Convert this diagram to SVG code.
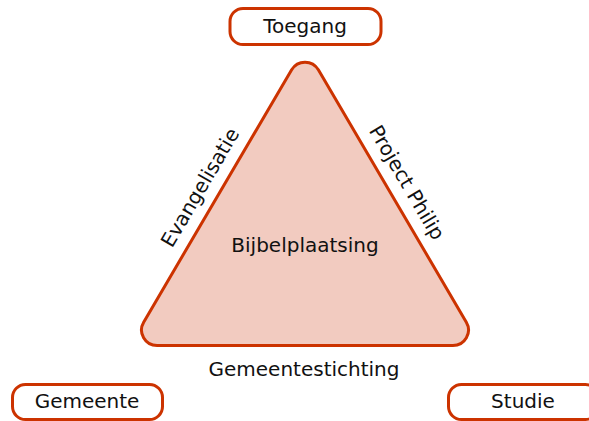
<svg xmlns="http://www.w3.org/2000/svg" width="589" height="421" viewBox="0 0 589 421">
  <style>
    .node { fill: #ffffff; stroke: #cc3300; stroke-width: 3; }
    .tri { fill: #f2cbc0; stroke: #cc3300; stroke-width: 3; stroke-linejoin: round; }
    .lbl { font-family: "DejaVu Sans", "Liberation Sans", sans-serif; font-size: 20px; fill: #111111; text-anchor: middle; }
  </style>
  <rect width="589" height="421" fill="#ffffff"/>
  <g id="triangle">
    <path class="tri" d="M 291.65 69.78 A 15.5 15.5 0 0 1 318.35 69.78 L 466.32 322.16 A 15.5 15.5 0 0 1 452.95 345.5 L 157.05 345.5 A 15.5 15.5 0 0 1 143.68 322.16 Z"/>
    <text class="lbl" x="305" y="252">Bijbelplaatsing</text>
  </g>
  <g id="edge-labels">
    <text class="lbl" x="206" y="191" transform="rotate(-59.6 206 191)">Evangelisatie</text>
    <text class="lbl" x="401" y="186" transform="rotate(59.6 401 186)">Project Philip</text>
    <text class="lbl" x="304" y="376">Gemeentestichting</text>
  </g>
  <g id="toegang">
    <rect class="node" x="230" y="8.5" width="151" height="36" rx="13"/>
    <text class="lbl" x="305" y="33">Toegang</text>
  </g>
  <g id="gemeente">
    <rect class="node" x="12.5" y="384.5" width="150" height="35" rx="13"/>
    <text class="lbl" x="87" y="408">Gemeente</text>
  </g>
  <g id="studie">
    <rect class="node" x="448.5" y="384.5" width="150" height="35" rx="13"/>
    <text class="lbl" x="523" y="408">Studie</text>
  </g>
</svg>
